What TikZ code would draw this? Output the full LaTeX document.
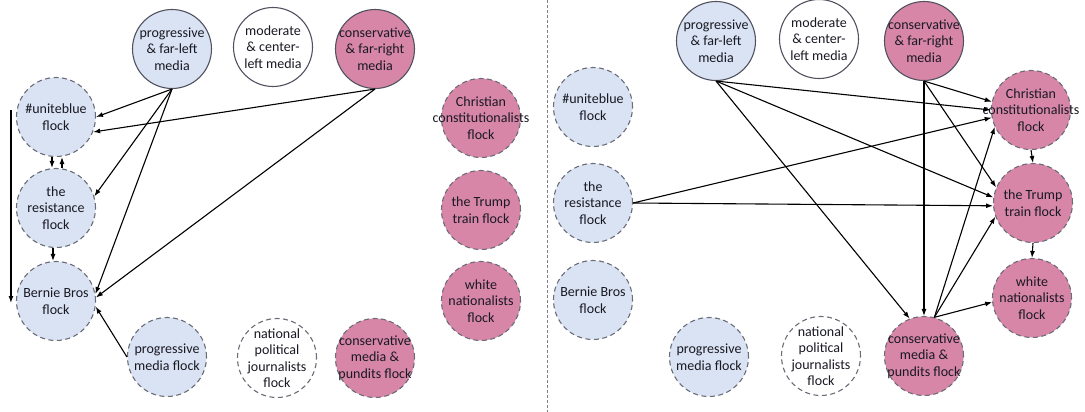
\documentclass[tikz,border=0pt]{standalone}
\usepackage{fontspec}
\setmainfont{Carlito}
\usetikzlibrary{arrows.meta}
\definecolor{lblue}{RGB}{218,227,243}
\definecolor{lpink}{RGB}{215,134,168}
\definecolor{rimgray}{RGB}{80,82,95}
\definecolor{txtc}{RGB}{25,25,35}
\tikzset{
  base/.style={circle, minimum size=79pt, inner sep=0pt, line width=1.1pt},
  media/.style={base, draw=rimgray},
  flock/.style={base, draw=rimgray!85, dash pattern=on 5pt off 3.5pt},
  bfill/.style={fill=lblue},
  pfill/.style={fill=lpink},
  wfill/.style={fill=white},
  lab/.style={font=\fontsize{14}{16.5}\selectfont, text=txtc, align=center},
  arr/.style={-{Latex[length=7pt,width=5pt]}, line width=1.1pt, black},
  divider/.style={draw=gray, line width=0.8pt, dash pattern=on 3pt off 2pt}
}
\begin{document}
\begin{tikzpicture}[x=1pt,y=-1pt]
\useasboundingbox (0,0) rectangle (1085,412);
% divider
\coordinate (dtop) at (547,0);
\coordinate (dbot) at (547,412);
\draw[divider] (dtop) -- (dbot);

% ===== left panel =====
\node[media,bfill,label={[lab]center:{progressive\\\& far-left\\media}}] (p1) at (172,49) {};
\node[media,wfill,label={[lab]center:{moderate\\\& center-\\left media}}] (m1) at (273,47) {};
\node[media,pfill,label={[lab]center:{conservative\\\& far-right\\media}}] (c1) at (375,49) {};
\node[flock,bfill,label={[lab]center:{\#uniteblue\\flock}}] (u1) at (56,117) {};
\node[flock,bfill,label={[lab]center:{the\\resistance\\flock}}] (r1) at (56,208) {};
\node[flock,bfill,label={[lab]center:{Bernie Bros\\flock}}] (b1) at (56,301) {};
\node[flock,bfill,label={[lab]center:{progressive\\media flock}}] (pm1) at (167,357) {};
\node[flock,wfill,label={[lab]center:{national\\political\\journalists\\flock}}] (j1) at (277,358) {};
\node[flock,pfill,label={[lab]center:{conservative\\media \&\\pundits flock}}] (n1) at (375,358) {};
\node[flock,pfill,label={[lab]center:{Christian\\constitutionalists\\flock}}] (k1) at (481,118) {};
\node[flock,pfill,label={[lab]center:{the Trump\\train flock}}] (t1) at (481,210) {};
\node[flock,pfill,label={[lab]center:{white\\nationalists\\flock}}] (w1) at (481,301) {};

\draw[arr] (p1.south) -- (u1.east);
\draw[arr] (p1.south) -- (r1.17);
\draw[arr] (p1.south) -- (b1.10);
\draw[arr] (c1.south) -- (u1.-22);
\draw[arr] (c1.south) -- (b1.5);
\draw[arr] (pm1.west) -- (b1.-8);
\draw[arr] ([xshift=-4pt]u1.south) -- ([xshift=-4pt]r1.north);
\draw[arr] ([xshift=6pt]r1.north) -- ([xshift=6pt]u1.south);
\draw[arr] ([xshift=-3pt]r1.south) -- ([xshift=-3pt]b1.north);
\draw[arr] ([xshift=-5pt,yshift=7pt]u1.west) -- ([xshift=-5pt,yshift=-2pt]b1.west);

% ===== right panel =====
\node[media,bfill,label={[lab]center:{progressive\\\& far-left\\media}}] (p2) at (716,41) {};
\node[media,wfill,label={[lab]center:{moderate\\\& center-\\left media}}] (m2) at (819,39) {};
\node[media,pfill,label={[lab]center:{conservative\\\& far-right\\media}}] (c2) at (924,41) {};
\node[flock,bfill,label={[lab]center:{\#uniteblue\\flock}}] (u2) at (593,107) {};
\node[flock,bfill,label={[lab]center:{the\\resistance\\flock}}] (r2) at (593,203) {};
\node[flock,bfill,label={[lab]center:{Bernie Bros\\flock}}] (b2) at (593,300) {};
\node[flock,bfill,label={[lab]center:{progressive\\media flock}}] (pm2) at (709,357) {};
\node[flock,wfill,label={[lab]center:{national\\political\\journalists\\flock}}] (j2) at (821,356) {};
\node[flock,pfill,label={[lab]center:{conservative\\media \&\\pundits flock}}] (n2) at (924,356) {};
\node[flock,pfill,label={[lab]center:{Christian\\constitutionalists\\flock}}] (k2) at (1031,110) {};
\node[flock,pfill,label={[lab]center:{the Trump\\train flock}}] (t2) at (1033,203) {};
\node[flock,pfill,label={[lab]center:{white\\nationalists\\flock}}] (w2) at (1032,298) {};

\draw[arr] (c2.south) -- (k2.168);
\draw[arr] (p2.south) -- (k2.180);
\draw[arr] (r2.east) -- (k2.191);
\draw[arr] (n2.75) -- (k2.205);
\draw[arr] (c2.south) -- (t2.157);
\draw[arr] (p2.south) -- (t2.172);
\draw[arr] (r2.east) -- (t2.184);
\draw[arr] (n2.75) -- (t2.200);
\draw[arr] (n2.75) -- (w2.186);
\draw[arr] (c2.south) -- (n2.north);
\draw[arr] (p2.south) -- (n2.111);
\draw[arr] (k2.south) -- (t2.north);
\draw[arr] (t2.south) -- (w2.north);
\end{tikzpicture}
\end{document}
